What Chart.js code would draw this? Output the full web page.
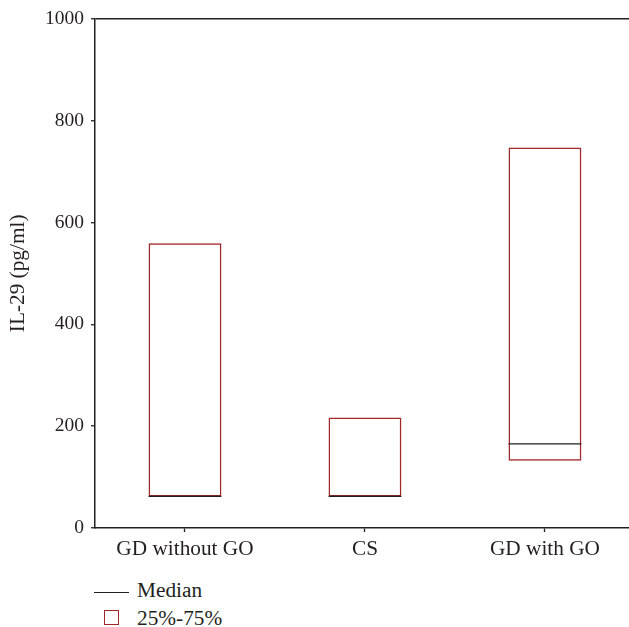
<!DOCTYPE html>
<html>
<head>
<meta charset="utf-8">
<script src="https://cdn.jsdelivr.net/npm/chart.js@4.4.1/dist/chart.umd.min.js"></script>
<style>
  html, body { margin: 0; padding: 0; background: #fff; overflow: hidden; }
  #wrap { position: relative; width: 629px; height: 627px; }
  #chartBox { position: absolute; left: 0; top: 0; width: 629px; height: 566px; }
  .legend { position: absolute; left: 0; top: 0; font: 21.3px "Liberation Serif", serif; color: #231f20; }
  .legend .txt { position: absolute; left: 137px; line-height: 24px; white-space: nowrap; }
  .legend .line { position: absolute; left: 94px; width: 35px; height: 0; border-top: 1.3px solid #231f20; }
  .legend .box { position: absolute; left: 104px; width: 13px; height: 13px; border: 1.5px solid #a0282a; }
</style>
</head>
<body>
<div id="wrap">
  <div id="chartBox"><canvas id="c"></canvas></div>
  <div class="legend">
    <div class="line" style="top:592px"></div>
    <div class="txt" style="top:578px">Median</div>
    <div class="box" style="top:610px"></div>
    <div class="txt" style="top:606px">25%-75%</div>
  </div>
</div>
<script>
  // Données
  const categories = ["GD without GO", "CS", "GD with GO"];
  const q1 = [62, 62, 132];      // 25e percentile
  const q3 = [559, 217, 747];    // 75e percentile
  const medians = [62, 62, 165];
  const yTicks = [0, 200, 400, 600, 800, 1000];

  const ink = "#231f20";
  const boxColor = "#a0282a";
  const family = "'Liberation Serif', serif";
  const font = { family, size: 21.3 };
  const numFont = { family, size: 19.5 };

  // Trait de médiane dessiné dans chaque boîte
  const medianPlugin = {
    id: "medianLines",
    afterDatasetsDraw(chart) {
      const meta = chart.getDatasetMeta(0);
      const y = chart.scales.y;
      const ctx = chart.ctx;
      ctx.save();
      ctx.strokeStyle = ink;
      ctx.lineWidth = 1.2;
      meta.data.forEach((bar, i) => {
        const py = y.getPixelForValue(medians[i]);
        ctx.beginPath();
        ctx.moveTo(bar.x - bar.width / 2, py);
        ctx.lineTo(bar.x + bar.width / 2, py);
        ctx.stroke();
      });
      ctx.restore();
    }
  };

  new Chart(document.getElementById("c"), {
    type: "bar",
    data: {
      datasets: [{
        label: "25%-75%",
        data: categories.map((c, i) => ({ x: i, y: [q1[i], q3[i]] })),
        backgroundColor: "rgba(255,255,255,0)",
        borderColor: boxColor,
        borderWidth: 1.5,
        borderSkipped: false,
        barPercentage: 0.405,
        categoryPercentage: 1
      }]
    },
    options: {
      responsive: true,
      maintainAspectRatio: false,
      animation: false,
      layout: { padding: { top: 17, right: 0, left: 0, bottom: 0 } },
      plugins: { legend: { display: false }, tooltip: { enabled: false } },
      scales: {
        x: {
          type: "linear",
          offset: false,
          min: -0.5,
          max: 2.467,
          afterBuildTicks: (s) => { s.ticks = categories.map((c, i) => ({ value: i })); },
          afterFit: (s) => { s.height = 566 - 528; },
          grid: { offset: false, color: "rgba(0,0,0,0)", drawTicks: true, tickLength: 4, tickColor: ink, tickWidth: 1.3 },
          border: { display: true, color: ink, width: 1.5 },
          ticks: {
            color: ink, font, padding: 5, maxRotation: 0, autoSkip: false,
            callback: (v) => categories[v] ?? ""
          }
        },
        y: {
          min: 0,
          max: 1000,
          afterBuildTicks: (s) => { s.ticks = yTicks.map((v) => ({ value: v })); },
          afterFit: (s) => { s.width = 95; },
          grid: {
            color: (c) => (c.tick && c.tick.value === 1000 ? ink : "rgba(0,0,0,0)"),
            lineWidth: 1.5,
            drawTicks: true, tickLength: 4, tickColor: ink, tickWidth: 1.3
          },
          border: { display: true, color: ink, width: 1.5 },
          ticks: { color: ink, font: numFont, padding: 7, callback: (v) => String(v) },
          title: { display: true, text: "IL-29 (pg/ml)", color: ink, font, padding: { top: 6, bottom: 0 } }
        }
      }
    },
    plugins: [medianPlugin]
  });
</script>
</body>
</html>
